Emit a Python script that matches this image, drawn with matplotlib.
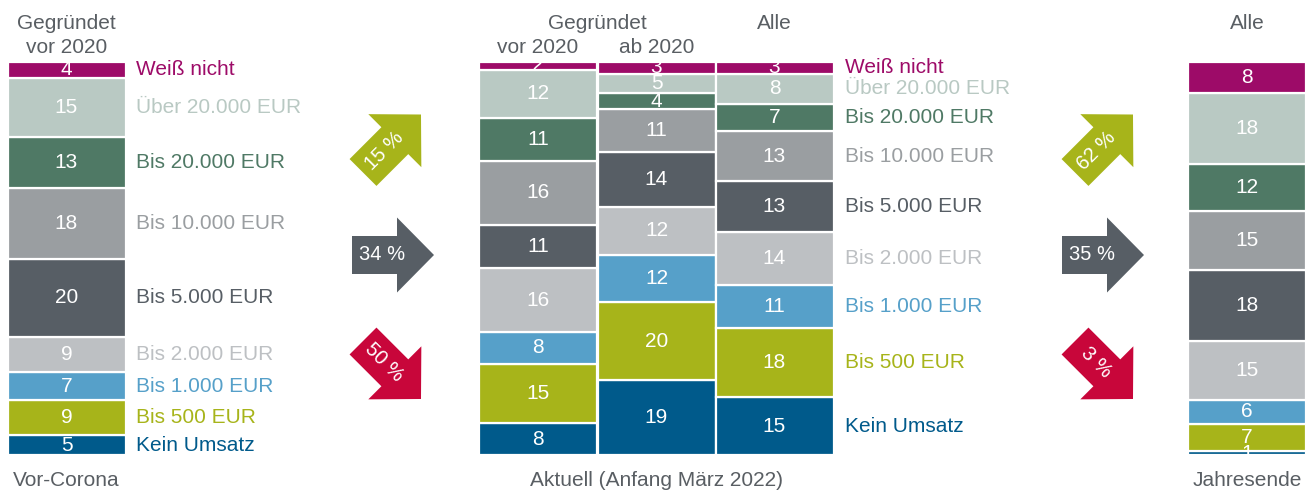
import numpy as np
import matplotlib.pyplot as plt
from matplotlib.patches import Polygon

plt.rcParams['font.family'] = ['Liberation Sans', 'DejaVu Sans']

# Kategorien von unten nach oben
kategorien = ['Kein Umsatz', 'Bis 500 EUR', 'Bis 1.000 EUR', 'Bis 2.000 EUR',
              'Bis 5.000 EUR', 'Bis 10.000 EUR', 'Bis 20.000 EUR',
              'Über 20.000 EUR', 'Weiß nicht']
farben = ['#005A8B', '#A7B41A', '#56A0C9', '#BDC0C3', '#575E65',
          '#9A9EA1', '#4F7965', '#B9C9C3', '#9D0B68']

vor_corona = [5, 9, 7, 9, 20, 18, 13, 15, 4]
aktuell_vor_2020 = [8, 15, 8, 16, 11, 16, 11, 12, 2]
aktuell_ab_2020 = [19, 20, 12, 12, 14, 11, 4, 5, 3]
aktuell_alle = [15, 18, 11, 14, 13, 13, 7, 8, 3]
jahresende = [1, 7, 6, 15, 18, 15, 12, 18, 8]

pfeile_links = ['15 %', '34 %', '50 %']
pfeile_rechts = ['62 %', '35 %', '3 %']

grau_text = '#595E63'
B, H = 1311, 491

fig = plt.figure(figsize=(B / 100, H / 100), dpi=100)
ax = fig.add_axes([0, 0, 1, 1])
ax.set_xlim(0, B)
# 0 % liegt bei Pixel 455 (von oben), 100 % bei Pixel 62
px = 100 / (455 - 62)
ax.set_ylim(-(H - 455) * px, 100 + 62 * px)
ax.axis('off')


def stapel(x, werte, breite=118):
    werte = np.array(werte, dtype=float)
    hoehen = werte / werte.sum() * 100
    unten = np.concatenate([[0], np.cumsum(hoehen)[:-1]])
    ax.bar(x, hoehen, bottom=unten, width=breite, color=farben,
           edgecolor='white', linewidth=1.6)
    for h, u, v in zip(hoehen, unten, werte):
        ax.text(x, u + h / 2, '%d' % v, ha='center', va='center',
                color='white', fontsize=15)
    return unten + hoehen / 2


mitte_vc = stapel(66.5, vor_corona)
stapel(538, aktuell_vor_2020)
stapel(656.5, aktuell_ab_2020)
mitte_alle = stapel(774.5, aktuell_alle)
stapel(1247, jahresende)

for name, farbe, y in zip(kategorien, farben, mitte_vc):
    ax.text(136, y, name, ha='left', va='center', color=farbe, fontsize=15)
for name, farbe, y in zip(kategorien, farben, mitte_alle):
    ax.text(845, y, name, ha='left', va='center', color=farbe, fontsize=15)

# Overlay in Pixelkoordinaten fuer Pfeile und Beschriftungen
ov = fig.add_axes([0, 0, 1, 1])
ov.set_xlim(0, B)
ov.set_ylim(0, H)
ov.patch.set_alpha(0)
ov.axis('off')


def pfeil(x0, y0, winkel, farbe, text):
    pts = np.array([[-41, 19], [4, 19], [4, 37.5], [41, 0],
                    [4, -37.5], [4, -19], [-41, -19]])
    w = np.radians(winkel)
    rot = np.array([[np.cos(w), -np.sin(w)], [np.sin(w), np.cos(w)]])
    ov.add_patch(Polygon(pts @ rot.T + [x0, y0], closed=True,
                         facecolor=farbe, edgecolor='none'))
    tx, ty = np.array([-11, 0]) @ rot.T + [x0, y0]
    ov.text(tx, ty, text, rotation=winkel, rotation_mode='anchor',
            ha='center', va='center', color='white', fontsize=14.5)


pfeil_farben = ['#A7B41A', '#575E65', '#C8063A']
winkel = [45, 0, -45]
ys = [H - 143.5, H - 255, H - 370]
for t, f, w, y, dx in zip(pfeile_links, pfeil_farben, winkel, ys, [392, 393, 392]):
    pfeil(dx, y, w, f, t)
for t, f, w, y, dx in zip(pfeile_rechts, pfeil_farben, winkel, ys, [1104, 1103, 1104]):
    pfeil(dx, y, w, f, t)

kopf = dict(ha='center', va='center', color=grau_text, fontsize=15)
ov.text(66.5, H - 23, 'Gegründet', **kopf)
ov.text(66.5, H - 47, 'vor 2020', **kopf)
ov.text(597, H - 23, 'Gegründet', **kopf)
ov.text(538, H - 47, 'vor 2020', **kopf)
ov.text(656.5, H - 47, 'ab 2020', **kopf)
ov.text(774.5, H - 23, 'Alle', **kopf)
ov.text(1247, H - 23, 'Alle', **kopf)
ov.text(66.5, H - 480, 'Vor-Corona', **kopf)
ov.text(656.5, H - 480, 'Aktuell (Anfang März 2022)', **kopf)
ov.text(1247, H - 480, 'Jahresende', **kopf)

fig.savefig('out.png', dpi=100)
